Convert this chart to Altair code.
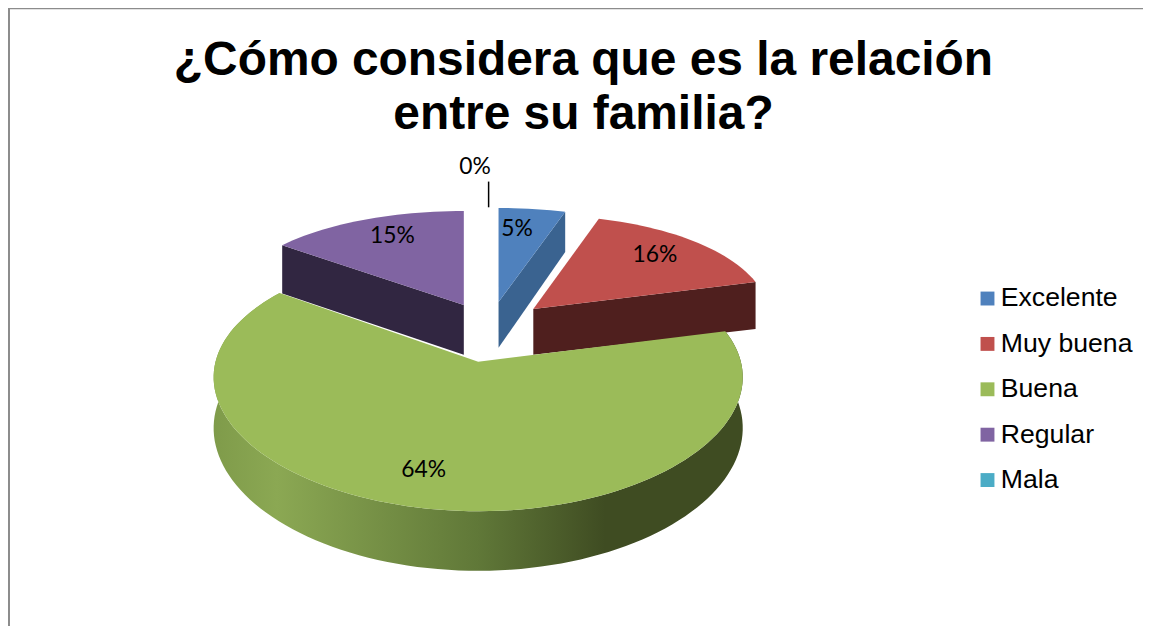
import math
import altair as alt

categories = ["Excelente", "Muy buena", "Buena", "Regular", "Mala"]
values = [5, 16, 64, 15, 0]
colors = ["#4F81BD", "#C0504D", "#9BBB59", "#8064A2", "#4BACC6"]
wall_colors = ["#3A6390", "#4F1F1E", None, "#312641", None]
labels = ["5%", "16%", "64%", "15%", "0%"]

W, H = 1143, 618
# view geometry of the tilted, exploded pie
KX = 0.12
ry = {"Excelente": 116, "Muy buena": 116, "Buena": 128, "Regular": 116, "Mala": 116}
ky = {"Excelente": 0.224, "Muy buena": 0.224, "Buena": 0.15, "Regular": 0.224, "Mala": 0.224}
radius = {"Excelente": 242, "Muy buena": 238, "Buena": 264.5, "Regular": 242, "Mala": 242}
apex = {"Excelente": (494, 294), "Muy buena": (529, 301), "Buena": (473.5, 354),
        "Regular": (459, 297), "Mala": (484, 291.5)}
wall_outer = {"Excelente": 1.0, "Muy buena": 1.0, "Regular": 1.1}
wall_inner = {"Excelente": 0.92, "Muy buena": 0.92, "Regular": 1.0}
label_angle = {"Excelente": 6.5, "Muy buena": 46, "Buena": 194, "Regular": 335, "Mala": 357.5}
label_reach = {"Excelente": 0.74, "Muy buena": 0.76, "Buena": 0.78, "Regular": 0.76, "Mala": 1.55}


def project(cat, angle, f=1.0, drop=0.0):
    a = math.radians(angle)
    u, v = f * math.sin(a), f * math.cos(a)
    ax, ay = apex[cat]
    return [ax + radius[cat] * u / (1 + KX * v),
            ay - ry[cat] * v / (1 + ky[cat] * v) + drop * (50 - 10 * v)]


def arc(cat, a0, a1, drop=0.0):
    n = max(2, int(abs(a1 - a0) / 2) + 1)
    return [project(cat, a0 + (a1 - a0) * i / (n - 1), 1.0, drop) for i in range(n)]


def feature(points, name=None):
    ring = points + [points[0]]
    return {"type": "Feature", "properties": {"name": name},
            "geometry": {"type": "Polygon", "coordinates": [ring]}}


spans = {}
start = 0.0
for c, val in zip(categories, values):
    spans[c] = (start, start + val * 3.6)
    start += val * 3.6


def radial_face(cat, angle):
    return feature([project(cat, 0, 0), project(cat, angle),
                    project(cat, angle, 1, wall_outer[cat]), project(cat, 0, 0, wall_inner[cat])])


def shape(features, **mark):
    return alt.Chart(alt.Data(values=features)).mark_geoshape(strokeWidth=0, **mark).project(
        type="identity", scale=1, translate=[0, 0])


back_walls = []
for c, angle, col in [("Regular", spans["Regular"][0], wall_colors[3]),
                      ("Excelente", spans["Excelente"][1], wall_colors[0]),
                      ("Muy buena", spans["Muy buena"][1], wall_colors[1])]:
    back_walls.append(shape([radial_face(c, angle)], fill=col))

g0, g1 = spans["Buena"]
green_wall = shape(
    [feature(arc("Buena", g0, g1) + arc("Buena", g1, g0, 1))],
    fill=alt.Gradient(
        gradient="linear", x1=0, x2=1, y1=0, y2=0,
        stops=[
            alt.GradientStop(color="#7F9B4A", offset=0),
            alt.GradientStop(color="#8BA853", offset=0.12),
            alt.GradientStop(color="#607838", offset=0.5),
            alt.GradientStop(color="#3F4C22", offset=0.74),
            alt.GradientStop(color="#3F4C22", offset=1),
        ],
    ),
)

tops = []
for c in ["Buena", "Regular", "Excelente", "Muy buena"]:
    a0, a1 = spans[c]
    tops.append(feature([project(c, 0, 0)] + arc(c, a0, a1), c))

top_faces = shape(tops).encode(
    color=alt.Color(
        "properties.name:N",
        scale=alt.Scale(domain=categories, range=colors),
        legend=alt.Legend(
            title=None, orient="none", legendX=973, legendY=277,
            symbolType="square", symbolSize=196, symbolStrokeWidth=0,
            labelFont="Liberation Sans", labelFontSize=26.8, labelColor="#000000",
            labelOffset=0, rowPadding=17.7, labelLimit=200,
        ),
    )
)

x_px = alt.X("px:Q", scale=alt.Scale(domain=[0, W], range=[0, W]), axis=None)
y_px = alt.Y("py:Q", scale=alt.Scale(domain=[0, H], range=[0, H]), axis=None)

label_rows = []
for c, lab in zip(categories, labels):
    px, py = project(c, label_angle[c], label_reach[c])
    label_rows.append({"px": px, "py": py, "t": lab})
text = alt.Chart(alt.Data(values=label_rows)).mark_text(
    font="Lato", fontSize=23, color="#000000", align="center", baseline="middle"
).encode(x=x_px, y=y_px, text="t:N")

p1 = project("Mala", 360, 0.977)
p2 = project("Mala", 360, 1.33)
leader = alt.Chart(alt.Data(values=[{"px": p1[0], "py": p1[1], "py2": p2[1]}])).mark_rule(
    color="#000000", strokeWidth=1.5
).encode(x=x_px, y=y_px, y2="py2:Q")

border_top = alt.Chart(alt.Data(values=[{"a": 0}])).mark_rule(color="#8C8C8C", strokeWidth=2).encode(
    x=alt.value(0), x2=alt.value(W + 8), y=alt.value(-2))
border_left = alt.Chart(alt.Data(values=[{"a": 0}])).mark_rule(color="#8C8C8C", strokeWidth=2).encode(
    x=alt.value(1), y=alt.value(-2), y2=alt.value(H + 12))

chart = alt.layer(
    border_top, border_left, *back_walls, green_wall, top_faces, text, leader
).properties(
    width=W, height=H, padding=0,
    autosize=alt.AutoSizeParams(type="none"),
    title=alt.TitleParams(
        text=["¿Cómo considera que es la relación", "entre su familia?"],
        font="Liberation Sans", fontSize=48.2, fontWeight="bold", color="#000000",
        anchor="middle", frame="group", dx=8, offset=-181, lineHeight=55, baseline="bottom",
    ),
).configure_view(stroke=None)

chart.save("out.html", embed_options={"renderer": "svg", "actions": False})
